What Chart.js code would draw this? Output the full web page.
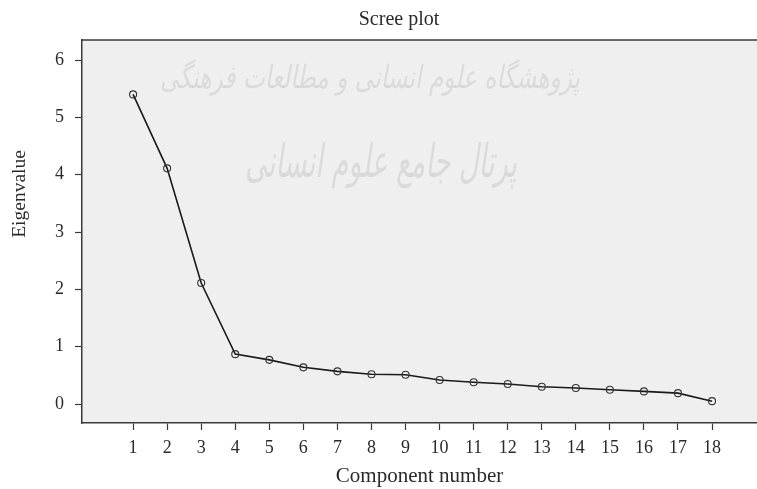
<!DOCTYPE html>
<html><head><meta charset="utf-8">
<script src="https://cdn.jsdelivr.net/npm/chart.js@4.4.1/dist/chart.umd.min.js"></script>
<style>html,body{margin:0;padding:0;background:#fff}</style>
</head><body>
<canvas id="c" width="757" height="489" style="display:block;width:757px;height:489px"></canvas>
<script>
const components = [1,2,3,4,5,6,7,8,9,10,11,12,13,14,15,16,17,18];
const eigenvalues = [5.40,4.11,2.11,0.87,0.77,0.64,0.57,0.52,0.51,0.42,0.38,0.35,0.30,0.28,0.25,0.22,0.19,0.05];
const yTicks = [0,1,2,3,4,5,6];
const chartTitle = 'Scree plot';
const xTitle = 'Component number';
const yTitle = 'Eigenvalue';
const watermark1 = 'پژوهشگاه علوم انسانی و مطالعات فرهنگی';
const watermark2 = 'پرتال جامع علوم انسانی';

const SERIF = '"Liberation Serif", "Times New Roman", serif';
const INK = '#2a2a2a';

const decor = {
  id: 'decor',
  beforeDraw(chart) {
    const {ctx, chartArea: a} = chart;
    ctx.save();
    ctx.fillStyle = '#efefef';
    ctx.fillRect(a.left, a.top, a.right - a.left, a.bottom - a.top);
    ctx.fillStyle = 'rgba(0,0,0,0.085)';
    ctx.textAlign = 'center';
    ctx.textBaseline = 'middle';
    ctx.direction = 'rtl';
    const fit = (txt, cx, cy, w, size) => {
      ctx.font = 'italic ' + size + 'px "DejaVu Sans", "Noto Sans", sans-serif';
      const m = ctx.measureText(txt).width;
      ctx.save();
      ctx.translate(cx, cy);
      ctx.scale(w / m, 1);
      ctx.fillText(txt, 0, 0);
      ctx.restore();
    };
    fit(watermark1, 370, 80, 420, 32);
    fit(watermark2, 381, 165, 272, 46);
    ctx.restore();
  },
  afterDraw(chart) {
    const {ctx, chartArea: a} = chart;
    ctx.save();
    ctx.strokeStyle = '#3a3a3a';
    ctx.lineWidth = 1.5;
    ctx.beginPath();
    ctx.moveTo(a.left, a.top);
    ctx.lineTo(a.right, a.top);
    ctx.stroke();
    ctx.fillStyle = INK;
    ctx.textAlign = 'center';
    ctx.textBaseline = 'middle';
    ctx.font = '20px ' + SERIF;
    ctx.fillText(chartTitle, 399, 20);
    ctx.font = '19.5px ' + SERIF;
    ctx.translate(20, 194);
    ctx.rotate(-Math.PI / 2);
    ctx.fillText(yTitle, 0, 0);
    ctx.restore();
  }
};

new Chart(document.getElementById('c'), {
  type: 'line',
  data: {
    datasets: [{
      data: components.map((c, i) => ({x: c, y: eigenvalues[i]})),
      borderColor: '#1a1a1a',
      borderWidth: 1.6,
      pointRadius: 3.5,
      pointBackgroundColor: 'rgba(0,0,0,0)',
      pointBorderColor: '#333',
      pointBorderWidth: 1.1,
      tension: 0
    }]
  },
  options: {
    responsive: false,
    animation: false,
    layout: {autoPadding: false, padding: {top: 40, left: 0, right: 0, bottom: 0}},
    plugins: {
      legend: {display: false},
      tooltip: {enabled: false},
      title: {display: false}
    },
    scales: {
      x: {
        type: 'linear',
        min: -0.5,
        max: 19.32,
        afterBuildTicks: s => { s.ticks = components.map(v => ({value: v})); },
        afterFit: s => { s.height = 66; s.paddingLeft = 0; s.paddingRight = 0; },
        border: {display: true, color: '#3a3a3a', width: 1.5},
        grid: {drawOnChartArea: false, drawTicks: true, tickLength: 7, tickColor: '#3a3a3a', tickWidth: 1.2},
        ticks: {color: INK, font: {family: SERIF, size: 18}, padding: 7, autoSkip: false, maxRotation: 0},
        title: {display: true, text: xTitle, color: INK, font: {family: SERIF, size: 21}, padding: {top: 0, bottom: 0}}
      },
      y: {
        type: 'linear',
        min: -0.331,
        max: 6.349,
        afterBuildTicks: s => { s.ticks = yTicks.map(v => ({value: v})); },
        afterFit: s => { s.width = 82; s.paddingTop = 0; s.paddingBottom = 0; },
        border: {display: true, color: '#3a3a3a', width: 1.5},
        grid: {drawOnChartArea: false, drawTicks: true, tickLength: 7, tickColor: '#3a3a3a', tickWidth: 1.2},
        ticks: {color: INK, font: {family: SERIF, size: 18}, padding: 11}
      }
    }
  },
  plugins: [decor]
});
</script>
</body></html>
